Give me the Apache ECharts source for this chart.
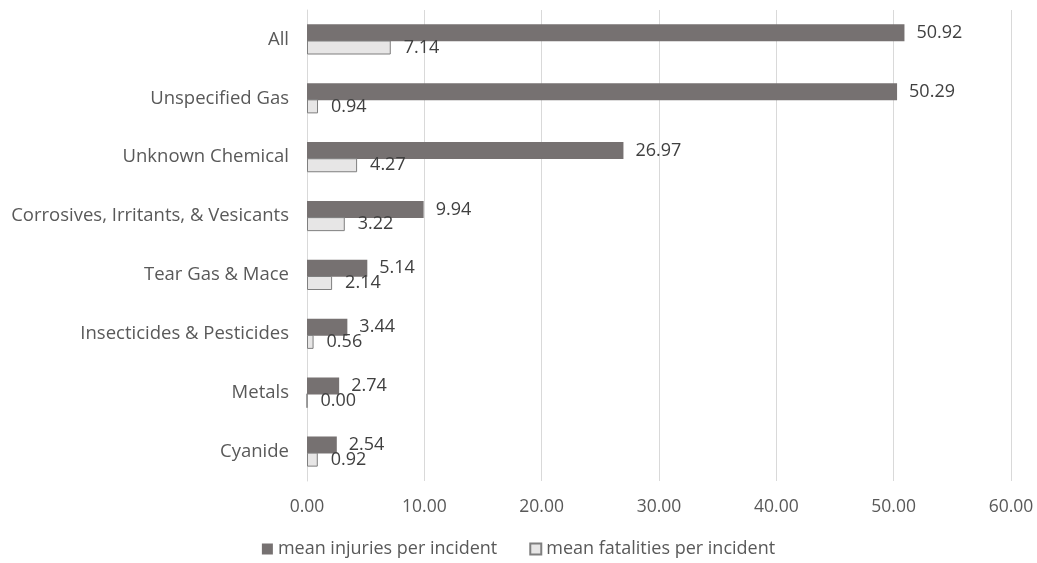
<!DOCTYPE html>
<html>
<head>
<meta charset="utf-8">
<script src="https://cdn.jsdelivr.net/npm/echarts@6/dist/echarts.min.js"></script>
<style>
  html, body { margin: 0; padding: 0; background: #fff; }
  #chart { width: 1037px; height: 563px; }
</style>
</head>
<body>
<div id="chart"></div>
<script>
const categories = ['All', 'Unspecified Gas', 'Unknown Chemical', 'Corrosives, Irritants, & Vesicants',
  'Tear Gas & Mace', 'Insecticides & Pesticides', 'Metals', 'Cyanide']
const injuries = [50.92, 50.29, 26.97, 9.94, 5.14, 3.44, 2.74, 2.54]
const fatalities = [7.14, 0.94, 4.27, 3.22, 2.14, 0.56, 0.00, 0.92]
const seriesNames = ['mean injuries per incident', 'mean fatalities per incident']

const font = '"Open Sans", sans-serif'
const chart = echarts.init(document.getElementById('chart'))
chart.setOption({
  animation: false,
  textStyle: { fontFamily: font },
  grid: { left: 307, right: 26, top: 10, bottom: 82, containLabel: false },
  legend: {
    bottom: 0,
    left: 'center',
    icon: 'rect',
    itemWidth: 11,
    itemHeight: 11,
    itemGap: 32,
    textStyle: { fontSize: 18, color: '#595959', fontFamily: font },
    data: seriesNames
  },
  xAxis: {
    type: 'value',
    min: 0,
    max: 60,
    interval: 10,
    axisLine: { show: false },
    axisTick: { show: false },
    axisLabel: {
      color: '#595959', fontSize: 17.5, margin: 17,
      formatter: v => v.toFixed(2)
    },
    splitLine: { lineStyle: { color: '#d9d9d9', width: 1 } }
  },
  yAxis: {
    type: 'category',
    inverse: true,
    data: categories,
    axisLine: { show: true, lineStyle: { color: '#d9d9d9' } },
    axisTick: { show: false },
    axisLabel: { color: '#595959', fontSize: 18.5, margin: 18 }
  },
  series: [
    {
      name: seriesNames[0],
      type: 'bar',
      data: injuries,
      barWidth: 17,
      barGap: '-5%',
      itemStyle: { color: '#767171' },
      label: {
        show: true, position: 'right', distance: 12,
        color: '#404040', fontSize: 18,
        formatter: p => p.value.toFixed(2)
      }
    },
    {
      name: seriesNames[1],
      type: 'bar',
      data: fatalities,
      barWidth: 14,
      itemStyle: { color: '#e7e6e6', borderColor: '#7f7f7f', borderWidth: 1 },
      label: {
        show: true, position: 'right', distance: 13,
        color: '#404040', fontSize: 18,
        formatter: p => p.value.toFixed(2)
      }
    }
  ]
})
</script>
</body>
</html>
